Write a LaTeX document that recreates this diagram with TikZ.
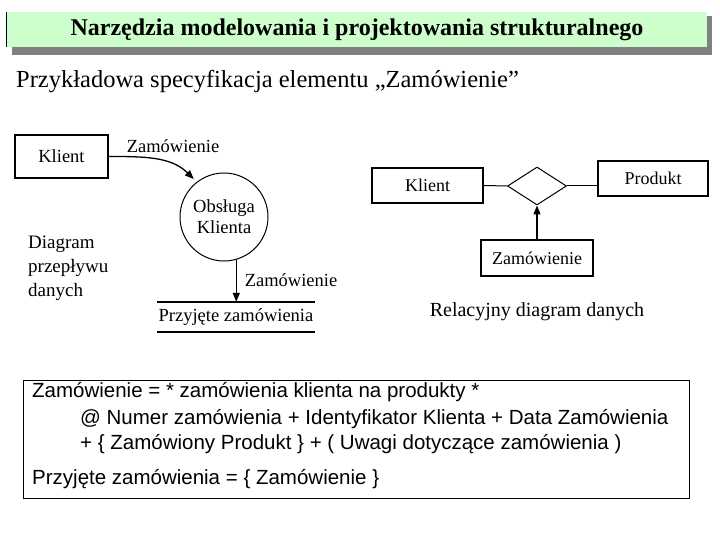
\documentclass[tikz,border=0pt]{standalone}
\usepackage{fontspec}
\setmainfont{Liberation Serif}
\setsansfont{Liberation Sans}
\usepackage{xcolor}
\usetikzlibrary{arrows.meta,positioning,calc,shapes.geometric}
\definecolor{barGreen}{RGB}{204,255,204}
\definecolor{barShadow}{RGB}{128,128,128}

\begin{document}
\begin{tikzpicture}[
  x=1pt, y=-1pt,
  >={Triangle[length=9pt,width=7pt]},
  ent/.style={draw, line width=1.6pt, minimum width=93pt, minimum height=43pt,
              inner sep=0pt, font=\fontsize{18.5}{20}\selectfont},
  erent/.style={ent, minimum width=111pt, minimum height=35pt,
                font=\fontsize{18}{20}\selectfont},
  proc/.style={draw, circle, line width=1pt, minimum size=88pt, inner sep=0pt,
               align=center, font=\fontsize{18.5}{21}\selectfont},
  rel/.style={draw, diamond, line width=1pt, minimum width=59pt, minimum height=38pt,
              inner sep=0pt},
  flow/.style={->, line width=1.3pt},
  lab/.style={font=\fontsize{18.5}{20}\selectfont, inner sep=1pt},
  big/.style={font=\fontsize{19}{24}\selectfont, align=left, inner sep=0pt},
  spec/.style={font=\sffamily\fontsize{20.5}{22}\selectfont, anchor=west, inner sep=0pt}
]
\useasboundingbox (0,0) rectangle (720,540);

% ---------- title bar ----------
\fill[barShadow] (12,16) rectangle (712,55);
\node[fill=barGreen, minimum width=700pt, minimum height=35pt, inner sep=0pt,
      font=\bfseries\fontsize{24}{26}\selectfont] (title) at (357,29.5)
      {Narzędzia modelowania i projektowania strukturalnego};
\draw[line width=1pt] (title.north west) -- (title.south west);

\node[anchor=west, inner sep=0pt, font=\fontsize{24.5}{26}\selectfont] (sub) at (16,82)
      {Przykładowa specyfikacja elementu „Zamówienie”};

% ---------- left: data flow diagram ----------
\node[ent] (kli) at (61.5,156.5) {Klient};
\node[proc] (obs) at (224,217) {Obsługa\\Klienta};
\node[inner sep=0pt, minimum width=158pt, minimum height=30pt,
      font=\fontsize{18.5}{20}\selectfont] (store) at (236,317) {Przyjęte zamówienia};
\draw[line width=1.6pt] (store.north west) -- (store.north east);
\draw[line width=1.6pt] (store.south west) -- (store.south east);

\draw[flow, shorten >=4pt] (kli.east) to[out=0,in=135] (obs.128);
\node[lab] (zam1) at (173,146) {Zamówienie};
\draw[flow] (obs.-74) -- (obs.-74 |- store.north);
\node[lab] (zam2) at (291,280) {Zamówienie};

\node[big, anchor=north west] (dfd) at (28,236) {Diagram\\przepływu\\danych};

% ---------- right: relational diagram ----------
\node[erent] (kli2) at (427.5,185.5) {Klient};
\node[rel] (rl) at (537,186) {};
\node[erent, minimum width=110pt] (prod) at (653,178.5) {Produkt};
\node[erent, minimum width=112pt, minimum height=36pt] (zam3) at (537,258) {Zamówienie};

\draw[line width=1pt] (kli2.east) -- (rl.west);
\draw[line width=1pt] (rl.east) -- (prod.west |- rl.east);
\draw[flow] (zam3.north) -- (rl.south);

\node[font=\fontsize{20}{22}\selectfont, inner sep=0pt] (erd) at (537,312) {Relacyjny diagram danych};

% ---------- bottom: specification ----------
\node[draw, line width=1pt, minimum width=666pt, minimum height=118pt] (box) at (356,439) {};
\node[spec] (l1) at (32,392) {Zamówienie = * zamówienia klienta na produkty *};
\node[spec] (l2) at (80,419) {@ Numer zamówienia + Identyfikator Klienta + Data Zamówienia};
\node[spec] (l3) at (80,444) {+ \{ Zamówiony Produkt \} + ( Uwagi dotyczące zamówienia )};
\node[spec] (l4) at (32,479) {Przyjęte zamówienia = \{ Zamówienie \}};

\end{tikzpicture}
\end{document}
